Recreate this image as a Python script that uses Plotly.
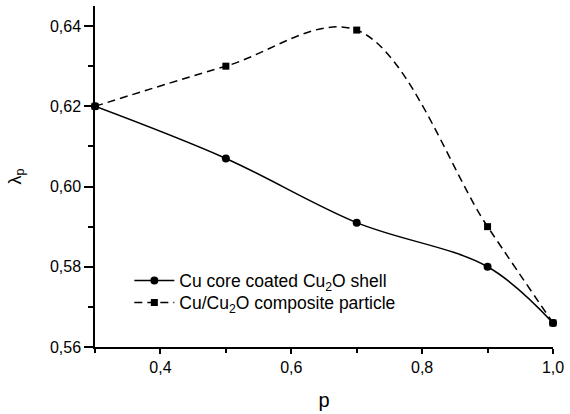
import plotly.graph_objects as go

p_vals = [0.3, 0.5, 0.7, 0.9, 1.0]
core_shell = [0.620, 0.607, 0.591, 0.580, 0.566]
composite = [0.620, 0.630, 0.639, 0.590, 0.566]

series_names = ["Cu core coated Cu<sub>2</sub>O shell", "Cu/Cu<sub>2</sub>O composite particle"]

FONT = "Liberation Sans, Arial, sans-serif"

fig = go.Figure()
fig.add_trace(go.Scatter(
    x=p_vals, y=core_shell, name=series_names[0],
    mode="lines+markers",
    line=dict(color="black", width=1.5, shape="spline", smoothing=1.0),
    marker=dict(symbol="circle", size=8, color="black"),
    cliponaxis=False, legend="legend",
))
fig.add_trace(go.Scatter(
    x=p_vals, y=composite, name=series_names[1],
    mode="lines+markers",
    line=dict(color="black", width=1.5, dash="8px,5px", shape="spline", smoothing=1.0),
    marker=dict(symbol="square", size=7, color="black"),
    cliponaxis=False, legend="legend2",
))

leg_common = dict(xanchor="left", yanchor="middle", bgcolor="rgba(0,0,0,0)",
                  font=dict(size=17.5, family=FONT), itemwidth=40)

fig.update_layout(
    width=570, height=414,
    margin=dict(l=95, r=12, t=6, b=66),
    paper_bgcolor="white", plot_bgcolor="white",
    separators=", ",
    font=dict(family=FONT, size=16, color="black"),
    showlegend=True,
    legend=dict(x=0.075, y=0.195, **leg_common),
    legend2=dict(x=0.075, y=0.13, **leg_common),
    xaxis=dict(
        range=[0.3, 1.0], dtick=0.2, tick0=0.4, tickformat=".1f",
        showline=True, linecolor="black", linewidth=1.5,
        ticks="outside", ticklen=5, tickcolor="black", tickwidth=1.5,
        showgrid=False, zeroline=False,
        minor=dict(ticks="outside", ticklen=4, dtick=0.2, tick0=0.3, tickcolor="black", tickwidth=1.5),
        title=dict(text="p", font=dict(size=20, family=FONT), standoff=18),
        tickfont=dict(size=16, family=FONT),
    ),
    yaxis=dict(
        range=[0.56, 0.645], dtick=0.02, tick0=0.56, tickformat=".2f",
        showline=True, linecolor="black", linewidth=1.5,
        ticks="outside", ticklen=9, tickcolor="black", tickwidth=1.5,
        showgrid=False, zeroline=False,
        minor=dict(ticks="outside", ticklen=5, dtick=0.02, tick0=0.57, tickcolor="black", tickwidth=1.5),
        title=dict(text="λ<sub>p</sub>", font=dict(size=18, family=FONT), standoff=24),
        tickfont=dict(size=16, family=FONT),
    ),
)

fig.write_html("out.html")
